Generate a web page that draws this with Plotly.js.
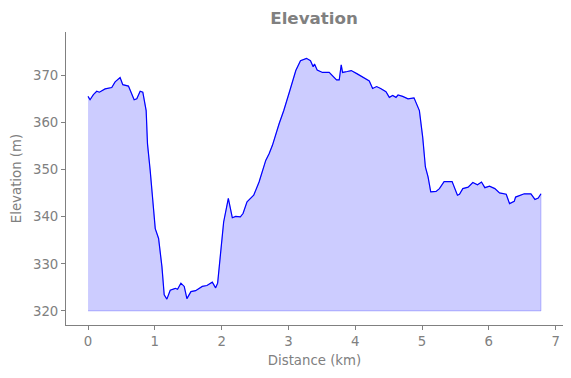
<!DOCTYPE html>
<html>
<head>
<meta charset="utf-8">
<script src="https://cdn.plot.ly/plotly-3.0.1.min.js"></script>
<style>html,body{margin:0;padding:0;background:#fff}#chart{width:571px;height:378px}</style>
</head>
<body>
<div id="chart"></div>
<script>
// Distance along the route (km)
const distance = [0.00,0.03,0.08,0.13,0.17,0.255,0.355,0.405,0.48,0.52,0.605,0.69,0.73,0.78,0.82,0.87,0.89,0.93,1.006,1.056,1.106,1.14,1.18,1.23,1.306,1.34,1.39,1.44,1.48,1.54,1.61,1.71,1.78,1.86,1.91,1.94,2.03,2.10,2.16,2.21,2.28,2.32,2.38,2.48,2.56,2.66,2.71,2.76,2.86,2.93,3.02,3.11,3.18,3.27,3.33,3.37,3.39,3.43,3.51,3.61,3.72,3.76,3.79,3.81,3.88,3.94,4.03,4.13,4.21,4.26,4.32,4.38,4.46,4.51,4.56,4.61,4.64,4.71,4.79,4.88,4.94,4.96,5.01,5.05,5.09,5.13,5.21,5.26,5.33,5.45,5.53,5.56,5.61,5.69,5.76,5.83,5.89,5.94,6.01,6.09,6.16,6.26,6.31,6.38,6.40,6.48,6.53,6.63,6.69,6.74,6.78];
// Elevation (m)
const elevation = [365.6,364.9,366.0,366.7,366.5,367.2,367.5,368.7,369.6,368.1,367.8,364.9,365.1,366.7,366.5,362.6,355.5,349.9,337.5,335.4,329.4,323.4,322.5,324.4,324.8,324.6,325.9,325.2,322.6,324.1,324.3,325.2,325.4,326.1,324.9,325.9,338.9,343.9,339.8,340.1,340.0,340.7,343.2,344.6,347.4,352.0,353.4,355.2,359.8,362.6,366.8,371.1,373.2,373.7,373.2,371.9,372.5,371.2,370.7,370.7,369.1,369.1,372.3,370.7,370.9,371.1,370.4,369.6,368.9,367.3,367.7,367.3,366.6,365.4,365.8,365.4,365.9,365.6,365.1,365.3,363.3,362.6,356.9,350.6,348.5,345.3,345.4,346.0,347.5,347.5,344.6,344.8,346.0,346.3,347.3,346.8,347.4,346.2,346.5,346.0,345.1,344.8,342.8,343.3,344.2,344.7,344.9,344.9,343.7,344.0,344.9];
const baseElevation = 320;
const xTicks = [0,1,2,3,4,5,6,7];
const yTicks = [320,330,340,350,360,370];

const fillX = distance.concat([distance[distance.length-1], distance[0]]);
const fillY = elevation.concat([baseElevation, baseElevation]);

const grey = '#808080';
const fnt = 'DejaVu Sans, sans-serif';

const traces = [
  {x: fillX, y: fillY, type: 'scatter', mode: 'lines', fill: 'toself',
   fillcolor: 'rgba(0,0,255,0.2)', line: {color: 'rgba(0,0,255,0.22)', width: 1},
   hoverinfo: 'skip', showlegend: false},
  {x: distance, y: elevation, type: 'scatter', mode: 'lines',
   line: {color: '#0000ff', width: 1.2}, showlegend: false}
];

const layout = {
  width: 571, height: 378,
  margin: {l: 66, r: 8, t: 32, b: 53},
  paper_bgcolor: '#ffffff', plot_bgcolor: '#ffffff',
  font: {family: fnt, color: grey, size: 13.3},
  title: {text: '<b>Elevation</b>', font: {family: fnt, size: 16.7, color: grey},
          x: 0.55, xanchor: 'center', y: 0.952, yanchor: 'middle'},
  xaxis: {range: [-0.33, 7.11], tickvals: xTicks, ticktext: xTicks.map(String),
          showgrid: false, zeroline: false, showline: true, linecolor: grey, linewidth: 1,
          ticks: 'outside', ticklen: 4, tickcolor: grey, tickwidth: 1,
          tickfont: {family: fnt, size: 13.3, color: grey},
          title: {text: 'Distance (km)', font: {family: fnt, size: 13.3, color: grey}, standoff: 7}},
  yaxis: {range: [317.0, 379.3], tickvals: yTicks, ticktext: yTicks.map(String),
          showgrid: false, zeroline: false, showline: true, linecolor: grey, linewidth: 1,
          ticks: 'outside', ticklen: 4, tickcolor: grey, tickwidth: 1,
          tickfont: {family: fnt, size: 13.3, color: grey},
          title: {text: 'Elevation (m)', font: {family: fnt, size: 13.3, color: grey}, standoff: 8}}
};

Plotly.newPlot('chart', traces, layout, {displayModeBar: false, staticPlot: true});
</script>
</body>
</html>
